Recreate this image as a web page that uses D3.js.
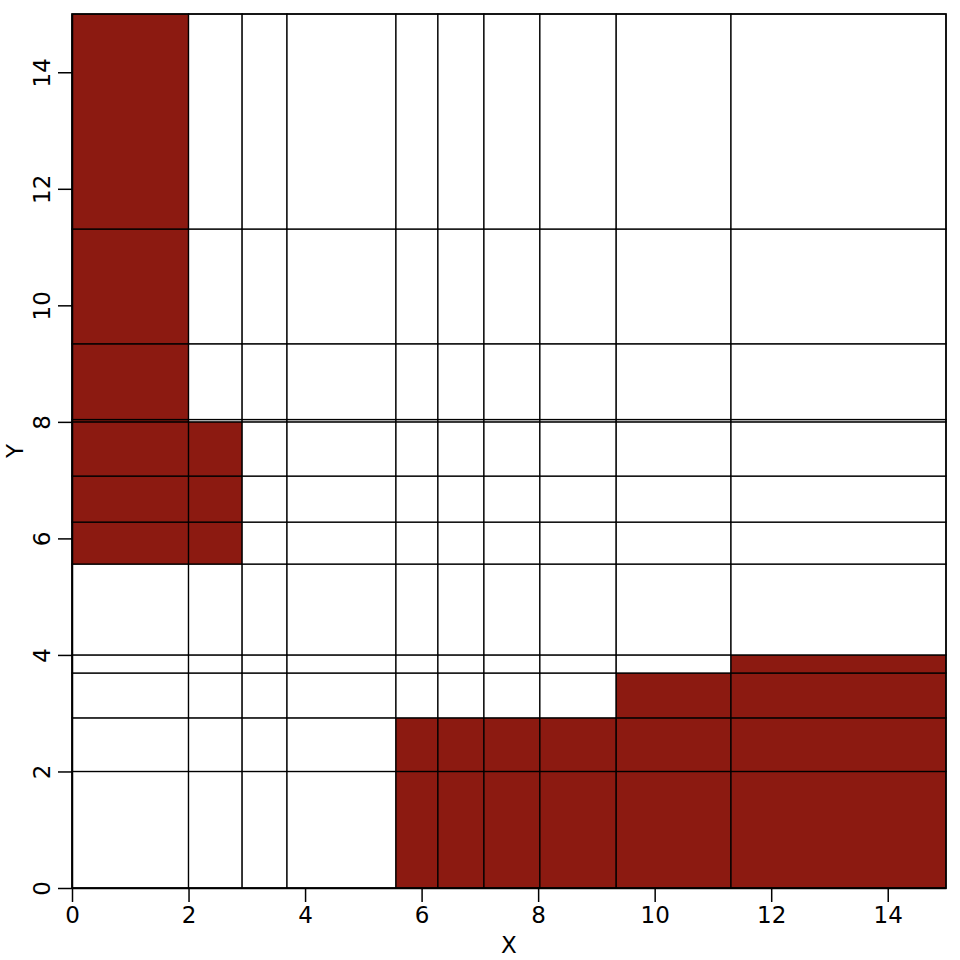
<!DOCTYPE html>
<html>
<head>
<meta charset="utf-8">
<script src="https://cdn.jsdelivr.net/npm/d3@7"></script>
<style>
  body { margin: 0; background: #fff; }
  text { font-family: "DejaVu Sans", sans-serif; }
</style>
</head>
<body>
<svg class="chart"></svg>
<script>
// cell break points along each axis
var xBreaks = [0, 2.0, 2.92, 3.69, 5.56, 6.28, 7.07, 8.03, 9.34, 11.31, 15];
var yBreaks = [0, 2.0, 2.92, 3.69, 4.0, 5.56, 6.28, 7.07, 8.0, 8.04, 9.34, 11.31, 15];

// filled regions [x0, x1, y0, y1]
var blocks = [
  [0, 2.0, 8.0, 15],
  [0, 2.92, 5.56, 8.0],
  [5.56, 9.34, 0, 2.92],
  [9.34, 11.31, 0, 3.69],
  [11.31, 15, 0, 4.0]
];

var xTicks = [0, 2, 4, 6, 8, 10, 12, 14];
var yTicks = [0, 2, 4, 6, 8, 10, 12, 14];

var margin = {top: 14, right: 14, bottom: 72, left: 72};
var width = 960 - margin.left - margin.right;
var height = 960 - margin.top - margin.bottom;

var x = d3.scaleLinear().domain([0, 15]).range([0, width]);
var y = d3.scaleLinear().domain([0, 15]).range([height, 0]);

var svg = d3.select(".chart")
  .attr("width", 960)
  .attr("height", 960);

var chart = svg.append("g")
  .attr("transform", "translate(" + margin.left + "," + margin.top + ")");

// build cells from the breaks
var cells = [];
for (var i = 0; i < xBreaks.length - 1; i++) {
  for (var j = 0; j < yBreaks.length - 1; j++) {
    var x0 = xBreaks[i], x1 = xBreaks[i + 1], y0 = yBreaks[j], y1 = yBreaks[j + 1];
    var filled = blocks.some(function(b) {
      return x0 >= b[0] && x1 <= b[1] && y0 >= b[2] && y1 <= b[3];
    });
    cells.push({x0: x0, x1: x1, y0: y0, y1: y1, filled: filled});
  }
}

chart.selectAll("rect.cell")
  .data(cells)
  .enter().append("rect")
  .attr("class", "cell")
  .attr("x", function(d) { return x(d.x0); })
  .attr("y", function(d) { return y(d.y1); })
  .attr("width", function(d) { return x(d.x1) - x(d.x0); })
  .attr("height", function(d) { return y(d.y0) - y(d.y1); })
  .style("fill", function(d) { return d.filled ? "#8c1a11" : "#fff"; })
  .style("stroke", "#000")
  .style("stroke-width", 1.3);

// plot box
chart.append("rect")
  .attr("width", width)
  .attr("height", height)
  .style("fill", "none")
  .style("stroke", "#000")
  .style("stroke-width", 1.5);

var xAxis = d3.axisBottom(x)
  .tickValues(xTicks)
  .tickSize(14)
  .tickSizeOuter(0)
  .tickPadding(5)
  .tickFormat(d3.format("d"));

var yAxis = d3.axisLeft(y)
  .tickValues(yTicks)
  .tickSize(14)
  .tickSizeOuter(0)
  .tickPadding(5)
  .tickFormat(d3.format("d"));

var gx = chart.append("g")
  .attr("transform", "translate(0," + height + ")")
  .call(xAxis);
gx.select(".domain").attr("stroke-width", 1.5);
gx.selectAll(".tick line").attr("stroke-width", 1.5);
gx.selectAll("text")
  .style("font-size", "23px")
  .style("fill", "#000");

var gy = chart.append("g").call(yAxis);
gy.select(".domain").attr("stroke-width", 1.5);
gy.selectAll(".tick line").attr("stroke-width", 1.5);
gy.selectAll("text")
  .style("font-size", "23px")
  .style("fill", "#000")
  .attr("x", null)
  .attr("dy", null)
  .attr("text-anchor", "middle")
  .attr("transform", "translate(-22,0) rotate(-90)")
  .attr("y", 0);

chart.append("text")
  .attr("x", width / 2)
  .attr("y", height + 65)
  .attr("text-anchor", "middle")
  .style("font-size", "23px")
  .text("X");

chart.append("text")
  .attr("transform", "translate(" + (-49) + "," + (height / 2) + ") rotate(-90)")
  .attr("text-anchor", "middle")
  .style("font-size", "23px")
  .text("Y");
</script>
</body>
</html>
